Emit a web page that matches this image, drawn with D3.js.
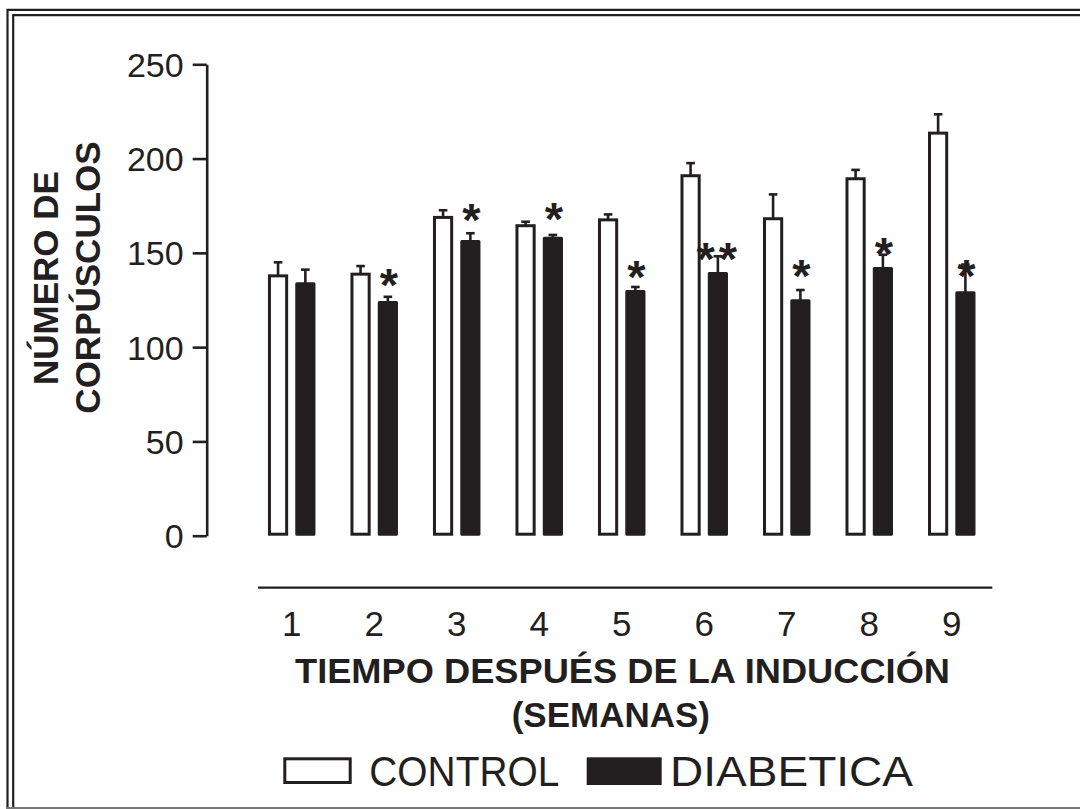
<!DOCTYPE html>
<html>
<head>
<meta charset="utf-8">
<script src="https://cdn.jsdelivr.net/npm/d3@7"></script>
<style>
  html, body { margin: 0; padding: 0; background: #fff; }
  svg { display: block; }
  text { font-family: "Liberation Sans", Arial, Helvetica, sans-serif; fill: #231f20; }
</style>
</head>
<body>
<svg id="chart" width="1080" height="809"></svg>
<script>
// ---- data ----
const weeks = ["1", "2", "3", "4", "5", "6", "7", "8", "9"];
const series = ["CONTROL", "DIABETICA"];
const controlValues = [137.8, 138.7, 168.8, 164.4, 167.5, 190.9, 168.1, 189.3, 213.5];
const controlErrors = [7.2, 4.3, 3.8, 2.1, 2.9, 6.7, 12.9, 4.7, 10.0];
const diabeticValues = [133.6, 123.7, 156.0, 157.8, 129.5, 139.1, 124.6, 141.7, 128.8];
const diabeticErrors = [7.5, 3.0, 4.4, 1.7, 2.4, 9.1, 5.7, 7.3, 15.0];
const significance = ["", "*", "*", "*", "*", "**", "*", "*", "*"];
const starLevels = [0, 138.6, 173.4, 173.6, 142.7, 152.4, 143.6, 155.3, 143.4];
const yTicks = [0, 50, 100, 150, 200, 250];
const yTitle = ["NÚMERO DE", "CORPÚSCULOS"];
const xTitle = ["TIEMPO DESPUÉS DE LA INDUCCIÓN", "(SEMANAS)"];

const ink = "#231f20";
const svg = d3.select("#chart");

// ---- frame ----
const frame = svg.append("g").attr("fill", "none");
frame.append("path").attr("d", "M7.5,809 V9.8 H1080").attr("stroke", ink).attr("stroke-width", 2.2);
frame.append("path").attr("d", "M13.2,809 V15.1 H1080").attr("stroke", ink).attr("stroke-width", 2.2);
frame.append("line").attr("x1", 6).attr("x2", 1080).attr("y1", 808).attr("y2", 808)
  .attr("stroke", "#777").attr("stroke-width", 2);

// ---- scales ----
const y = d3.scaleLinear().domain([0, 250]).range([535.7, 64.3]);
const x = d3.scaleBand().domain(weeks).range([250.45, 993.0]).padding(0);
const bw = x.bandwidth();
const x1 = d3.scaleBand().domain(series).range([bw / 2 - 27.3, bw / 2 + 27.3]).padding(0);
const barW = 17.2;

const rows = weeks.map((w, i) => ({
  week: w,
  bars: [
    { s: series[0], v: controlValues[i], e: controlErrors[i] },
    { s: series[1], v: diabeticValues[i], e: diabeticErrors[i] }
  ],
  sig: significance[i],
  level: starLevels[i]
}));

// ---- y axis ----
const yAxis = d3.axisLeft(y).tickValues(yTicks).tickSize(14).tickSizeOuter(0).tickPadding(9);
const gy = svg.append("g").attr("transform", "translate(206.7,0)").call(yAxis);
gy.select(".domain").attr("stroke", ink).attr("stroke-width", 2.6);
gy.selectAll(".tick line").attr("stroke", ink).attr("stroke-width", 2.6);
gy.selectAll(".tick text")
  .attr("font-family", "Liberation Sans, Arial, sans-serif")
  .attr("font-size", 34).attr("fill", ink).attr("dy", "0.35em");

// ---- bars ----
const groups = svg.append("g").selectAll("g.grp").data(rows).join("g")
  .attr("class", "grp")
  .attr("transform", d => `translate(${x(d.week)},0)`);

// error bars (behind)
groups.each(function (d) {
  const g = d3.select(this);
  d.bars.forEach(b => {
    const cx = x1(b.s) + x1.bandwidth() / 2;
    g.append("line").attr("x1", cx).attr("x2", cx)
      .attr("y1", y(b.v)).attr("y2", y(b.v + b.e))
      .attr("stroke", ink).attr("stroke-width", 2.6);
    g.append("line").attr("x1", cx - 4.3).attr("x2", cx + 4.3)
      .attr("y1", y(b.v + b.e)).attr("y2", y(b.v + b.e))
      .attr("stroke", ink).attr("stroke-width", 2.6);
  });
});

groups.selectAll("rect.bar").data(d => d.bars).join("rect")
  .attr("class", "bar")
  .attr("x", b => x1(b.s) + x1.bandwidth() / 2 - barW / 2)
  .attr("width", barW)
  .attr("y", b => y(b.v))
  .attr("height", b => y(0) - y(b.v) - 1.5)
  .attr("fill", b => b.s === series[0] ? "#fff" : ink)
  .attr("stroke", ink)
  .attr("stroke-width", 3)
  .attr("stroke-linejoin", b => b.s === series[0] ? "miter" : "round");

// significance marks
groups.filter(d => d.sig !== "").append("text")
  .attr("x", x1(series[1]) + x1.bandwidth() / 2 + 1)
  .attr("y", d => y(d.level))
  .attr("dy", "0.57em")
  .attr("text-anchor", "middle")
  .attr("font-size", 47)
  .attr("font-weight", "bold")
  .attr("letter-spacing", d => d.sig.length > 1 ? 4 : 0)
  .text(d => d.sig);

// ---- x axis ----
svg.append("line").attr("x1", 258).attr("x2", 992.3).attr("y1", 587.7).attr("y2", 587.7)
  .attr("stroke", ink).attr("stroke-width", 2.2);
svg.append("g").selectAll("text").data(weeks).join("text")
  .attr("x", d => x(d) + bw / 2)
  .attr("y", 636)
  .attr("text-anchor", "middle")
  .attr("font-size", 35)
  .text(d => d);

// x title
svg.append("text").attr("x", 295).attr("y", 683.3)
  .attr("font-size", 35).attr("font-weight", "bold")
  .attr("textLength", 655).attr("lengthAdjust", "spacingAndGlyphs")
  .text(xTitle[0]);
svg.append("text").attr("x", 610.8).attr("y", 727)
  .attr("text-anchor", "middle")
  .attr("font-size", 35).attr("font-weight", "bold")
  .text(xTitle[1]);

// y title
svg.append("text").attr("transform", "translate(58,278) rotate(-90)")
  .attr("text-anchor", "middle").attr("font-size", 35).attr("font-weight", "bold")
  .text(yTitle[0]);
svg.append("text").attr("transform", "translate(100,277.5) rotate(-90)")
  .attr("text-anchor", "middle").attr("font-size", 35).attr("font-weight", "bold")
  .text(yTitle[1]);

// ---- legend ----
const legend = svg.append("g");
const legendItems = [
  { s: series[0], rx: 284.8, ry: 758.8, rw: 65.4, rh: 23.7, tx: 369.3, tw: 190 },
  { s: series[1], rx: 588.2, ry: 758.8, rw: 72, rh: 24.7, tx: 670, tw: 243 }
];
legend.selectAll("rect").data(legendItems).join("rect")
  .attr("x", d => d.rx).attr("y", d => d.ry).attr("width", d => d.rw).attr("height", d => d.rh)
  .attr("fill", d => d.s === series[0] ? "#fff" : ink)
  .attr("stroke", ink).attr("stroke-width", 3);
legend.selectAll("text").data(legendItems).join("text")
  .attr("x", d => d.tx).attr("y", 786)
  .attr("font-size", 43)
  .attr("textLength", d => d.tw).attr("lengthAdjust", "spacingAndGlyphs")
  .text(d => d.s);
</script>
</body>
</html>
